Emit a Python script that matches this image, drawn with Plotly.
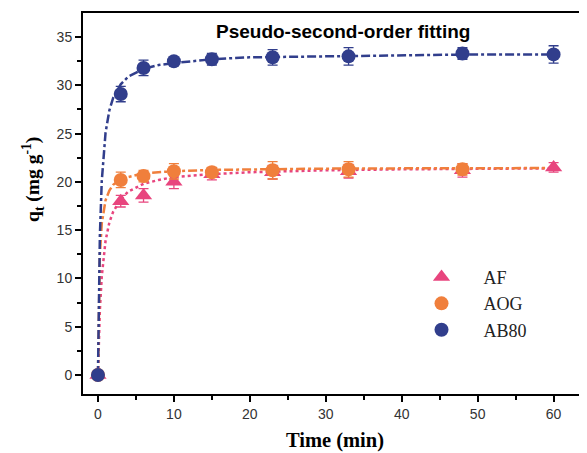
import plotly.graph_objects as go

# experimental data
time_pts = [0, 3, 6, 10, 15, 23, 33, 48, 60]
af_q = [0, 18.0, 18.6, 20.0, 20.8, 21.0, 21.1, 21.2, 21.5]
af_err = [0.2, 0.6, 0.7, 0.7, 0.6, 0.7, 0.7, 0.7, 0.5]
aog_time = [0, 3, 6, 10, 15, 23, 33, 48]
aog_q = [0, 20.2, 20.6, 21.1, 21.0, 21.2, 21.3, 21.3]
aog_err = [0.2, 0.8, 0.6, 0.8, 0.5, 0.9, 0.8, 0.6]
ab80_q = [0, 29.1, 31.8, 32.5, 32.7, 32.9, 33.0, 33.3, 33.2]
ab80_err = [0.2, 0.8, 0.8, 0.3, 0.6, 0.8, 0.9, 0.6, 0.9]

# fitted curves
fit_t = [0, 0.1, 0.25, 0.5, 0.75, 1, 1.5, 2, 3, 4, 6, 8, 10, 15, 20, 30, 40, 50, 60]
af_fit = [0, 3.3, 6.7, 10.2, 12.4, 13.9, 15.8, 16.9, 18.2, 19.0, 19.8, 20.2, 20.5, 20.8, 21.0, 21.2, 21.3, 21.36, 21.4]
aog_fit = [0, 7.5, 12.4, 15.7, 17.2, 18.1, 19.1, 19.7, 20.25, 20.5, 20.9, 21.0, 21.1, 21.24, 21.3, 21.37, 21.4, 21.41, 21.43]
ab80_fit = [0, 7.8, 14.4, 20.1, 23.2, 25.1, 27.4, 28.7, 30.1, 30.9, 31.7, 32.1, 32.3, 32.7, 32.9, 33.0, 33.1, 33.2, 33.2]

c_af = "#E8457E"
c_aog = "#F07F3C"
c_ab80 = "#313E8C"

fig = go.Figure()

fig.add_trace(go.Scatter(x=fit_t, y=af_fit, mode="lines", line=dict(color=c_af, width=2.5, dash="dot"),
                         showlegend=False, hoverinfo="skip"))
fig.add_trace(go.Scatter(x=fit_t, y=aog_fit, mode="lines", line=dict(color=c_aog, width=2.5, dash="dashdot"),
                         showlegend=False, hoverinfo="skip"))
fig.add_trace(go.Scatter(x=fit_t, y=ab80_fit, mode="lines", line=dict(color=c_ab80, width=2.5, dash="dashdot"),
                         showlegend=False, hoverinfo="skip"))

fig.add_trace(go.Scatter(x=time_pts, y=af_q, mode="markers", name="AF",
                         marker=dict(symbol="triangle-up", size=15, color=c_af),
                         error_y=dict(type="data", array=af_err, color=c_af, thickness=1.3, width=5)))
fig.add_trace(go.Scatter(x=aog_time, y=aog_q, mode="markers", name="AOG",
                         marker=dict(symbol="circle", size=14, color=c_aog),
                         error_y=dict(type="data", array=aog_err, color=c_aog, thickness=1.3, width=5)))
fig.add_trace(go.Scatter(x=time_pts, y=ab80_q, mode="markers", name="AB80",
                         marker=dict(symbol="circle", size=14, color=c_ab80),
                         error_y=dict(type="data", array=ab80_err, color=c_ab80, thickness=1.3, width=5)))

fig.update_layout(
    width=579, height=445,
    margin=dict(l=75, r=0, t=5, b=59),
    plot_bgcolor="white", paper_bgcolor="white",
    showlegend=True,
    legend=dict(x=0.628, y=0.355, xanchor="left", yanchor="top", bgcolor="rgba(0,0,0,0)",
                font=dict(family="Liberation Serif", size=18, color="#222"), itemwidth=74,
                tracegroupgap=0),
    annotations=[
        dict(text="<b>Pseudo-second-order fitting</b>", x=0.515, y=0.985, xref="paper", yref="paper",
             xanchor="center", yanchor="top", showarrow=False,
             font=dict(family="Liberation Sans", size=19, color="black")),
        dict(text="<b>q<sub>t</sub> (mg g<sup>-1</sup>)</b>", x=-0.099, y=0.562, xref="paper", yref="paper",
             xanchor="center", yanchor="middle", showarrow=False, textangle=-90,
             font=dict(family="Liberation Serif", size=19.5, color="black")),
    ],
)

fig.update_xaxes(range=[-1.97, 64.4], tickvals=[0, 10, 20, 30, 40, 50, 60],
                 ticks="outside", ticklen=6, tickwidth=2, tickcolor="black",
                 minor=dict(tickvals=[5, 15, 25, 35, 45, 55], ticks="outside", ticklen=4, tickwidth=2, tickcolor="black"),
                 showline=True, linecolor="black", linewidth=2, mirror=True, showgrid=False, zeroline=False,
                 automargin=False,
                 tickfont=dict(family="Liberation Sans", size=14, color="#333"),
                 title=dict(text="<b>Time (min)</b>", font=dict(family="Liberation Serif", size=20.5, color="black"), standoff=12))
fig.update_yaxes(range=[-1.97, 37.49], tickvals=[0, 5, 10, 15, 20, 25, 30, 35],
                 ticks="outside", ticklen=6, tickwidth=2, tickcolor="black",
                 minor=dict(tickvals=[2.5, 7.5, 12.5, 17.5, 22.5, 27.5, 32.5], ticks="outside", ticklen=4, tickwidth=2, tickcolor="black"),
                 showline=True, linecolor="black", linewidth=2, mirror=False, showgrid=False, zeroline=False,
                 automargin=False,
                 tickfont=dict(family="Liberation Sans", size=14, color="#333"))

fig.write_html("out.html")
